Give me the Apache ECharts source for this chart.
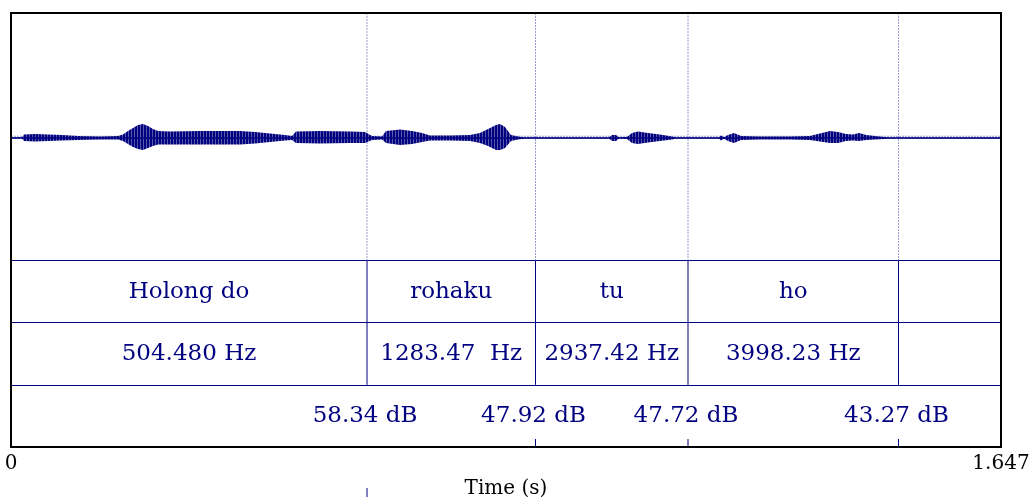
<!DOCTYPE html>
<html>
<head>
<meta charset="utf-8">
<script src="https://cdn.jsdelivr.net/npm/echarts@6/dist/echarts.min.js"></script>
<style>
  html, body { margin: 0; padding: 0; background: #fff; }
  #main { width: 1034px; height: 497px; }
</style>
</head>
<body>
<div id="main"></div>
<script>
// total duration (s)
var tMax = 1.647;

// waveform envelope (time s, upper / lower amplitude)
var waveTime = [0, 0.0183, 0.0216, 0.0399, 0.0616, 0.0848, 0.1115, 0.1481, 0.1780, 0.1863,
  0.1946, 0.2030, 0.2113, 0.2196, 0.2279, 0.2362, 0.2446, 0.2645, 0.3144, 0.3810,
  0.4059, 0.4309, 0.4558, 0.4675, 0.4741, 0.5141, 0.5640, 0.5889, 0.6006, 0.6172,
  0.6239, 0.6472, 0.6671, 0.6838, 0.6971, 0.7303, 0.7636, 0.7802, 0.7936, 0.8069,
  0.8135, 0.8218, 0.8318, 0.8435, 0.8551, 0.9949, 0.9999, 1.0065, 1.0115, 1.0248,
  1.0331, 1.0431, 1.0597, 1.0797, 1.0997, 1.1063, 1.1778, 1.1812, 1.1862, 1.1928,
  1.2028, 1.2145, 1.2461, 1.2960, 1.3292, 1.3459, 1.3625, 1.3758, 1.3891, 1.4008,
  1.4108, 1.4225, 1.4374, 1.4524, 1.4591, 1.647];
var waveUpper = [0.004, 0.004, 0.028, 0.032, 0.028, 0.024, 0.016, 0.012, 0.016, 0.028,
  0.056, 0.080, 0.104, 0.112, 0.096, 0.072, 0.056, 0.052, 0.056, 0.056,
  0.048, 0.036, 0.024, 0.016, 0.052, 0.056, 0.052, 0.048, 0.016, 0.012,
  0.056, 0.068, 0.056, 0.040, 0.020, 0.020, 0.024, 0.040, 0.072, 0.104,
  0.112, 0.088, 0.024, 0.012, 0.004, 0.004, 0.024, 0.024, 0.004, 0.008,
  0.040, 0.052, 0.040, 0.028, 0.012, 0.004, 0.004, 0.020, 0.0064, 0.024,
  0.040, 0.016, 0.012, 0.012, 0.016, 0.036, 0.056, 0.048, 0.032, 0.028,
  0.040, 0.024, 0.016, 0.008, 0.004, 0.004];
var waveLower = [0.004, 0.004, 0.024, 0.028, 0.024, 0.020, 0.016, 0.012, 0.012, 0.024,
  0.048, 0.072, 0.088, 0.096, 0.080, 0.064, 0.052, 0.052, 0.052, 0.052,
  0.044, 0.032, 0.020, 0.016, 0.040, 0.044, 0.040, 0.040, 0.016, 0.012,
  0.040, 0.056, 0.048, 0.032, 0.020, 0.020, 0.024, 0.040, 0.064, 0.096,
  0.096, 0.080, 0.024, 0.012, 0.004, 0.004, 0.024, 0.024, 0.004, 0.008,
  0.040, 0.048, 0.036, 0.024, 0.012, 0.004, 0.004, 0.020, 0.0064, 0.024,
  0.040, 0.016, 0.012, 0.012, 0.016, 0.028, 0.040, 0.040, 0.024, 0.020,
  0.024, 0.016, 0.012, 0.008, 0.004, 0.004];

// interval tier boundaries (s)
var boundaries = [0.5923, 0.8726, 1.1263, 1.4765];
var wordLabels = ['Holong do', 'rohaku', 'tu', 'ho', ''];
var freqLabels = ['504.480 Hz', '1283.47  Hz', '2937.42 Hz', '3998.23 Hz', ''];

// point tier
var pointTimes = [0.5923, 0.8726, 1.1263, 1.4765];
var pointLabels = ['58.34 dB', '47.92 dB', '47.72 dB', '43.27 dB'];

var axisLabels = [0, 1.647];

var navy = '#000080';
var font = 'DejaVu Serif';
var tierFont = '23px "' + font + '"';

var starts = [0].concat(boundaries);
var ends = boundaries.concat([tMax]);
var intervalData = [];
for (var i = 0; i < starts.length; i++) {
  intervalData.push([starts[i], ends[i], wordLabels[i], 0]);
  intervalData.push([starts[i], ends[i], freqLabels[i], 1]);
}
var pointData = pointTimes.map(function (t, i) { return [t, pointLabels[i], i]; });

// vertical stripe texture so the envelope reads like a sampled waveform
var stripe = document.createElement('canvas');
stripe.width = 3; stripe.height = 1;
var sctx = stripe.getContext('2d');
sctx.fillStyle = navy; sctx.fillRect(0, 0, 2, 1);
sctx.fillStyle = '#5858a8'; sctx.fillRect(2, 0, 1, 1);

var myChart = echarts.init(document.getElementById('main'));
var option = {
  animation: false,
  grid: [
    { left: 11, top: 13, width: 990, height: 247.5, outerBoundsMode: 'none', containLabel: false },
    { left: 11, top: 260.5, width: 990, height: 186.5, outerBoundsMode: 'none', containLabel: false }
  ],
  xAxis: [
    { gridIndex: 0, type: 'value', min: 0, max: tMax, show: false },
    {
      gridIndex: 1, type: 'value', min: 0, max: tMax,
      axisLine: { show: false },
      splitLine: { show: false },
      axisTick: { show: false },
      axisLabel: {
        customValues: axisLabels,
        margin: 7,
        color: '#000', fontFamily: font, fontSize: 20,
        formatter: function (v) { return v === 0 ? '0' : v.toFixed(3); }
      },
      name: 'Time (s)', nameLocation: 'middle', nameGap: 32,
      nameTextStyle: { color: '#000', fontFamily: font, fontSize: 20 }
    }
  ],
  yAxis: [
    { gridIndex: 0, type: 'value', min: -0.98, max: 1, show: false },
    {
      gridIndex: 1, type: 'value', min: 0, max: 3, interval: 1, inverse: true,
      axisLine: { show: false }, axisTick: { show: false }, axisLabel: { show: false },
      splitLine: { show: true, lineStyle: { color: navy, width: 1 } }
    }
  ],
  series: [
    {
      // boundary lines through the waveform
      type: 'custom', xAxisIndex: 0, yAxisIndex: 0,
      data: boundaries,
      renderItem: function (params, api) {
        var a = api.coord([api.value(0), 1]);
        var b = api.coord([api.value(0), -0.98]);
        return {
          type: 'line',
          shape: { x1: a[0], y1: a[1], x2: b[0], y2: b[1] },
          style: { stroke: '#9a9acc', lineWidth: 1, lineDash: [2, 1] }
        };
      },
      z: 1
    },
    {
      // waveform envelope
      type: 'custom', xAxisIndex: 0, yAxisIndex: 0,
      data: [0],
      renderItem: function (params, api) {
        var pts = [];
        for (var i = 0; i < waveTime.length; i++) pts.push(api.coord([waveTime[i], waveUpper[i]]));
        for (var j = waveTime.length - 1; j >= 0; j--) pts.push(api.coord([waveTime[j], -waveLower[j]]));
        var z0 = api.coord([0, 0.014]);
        var z1 = api.coord([tMax, 0.014]);
        var b0 = api.coord([0, 0]);
        var b1 = api.coord([tMax, 0]);
        return {
          type: 'group',
          children: [
            {
              type: 'line',
              shape: { x1: z0[0], y1: z0[1], x2: z1[0], y2: z1[1] },
              style: { stroke: '#9a9acc', lineWidth: 1, lineDash: [2, 1] }
            },
            {
              type: 'polygon',
              shape: { points: pts },
              style: { fill: { image: stripe, repeat: 'repeat' }, stroke: null }
            },
            {
              type: 'line',
              shape: { x1: b0[0], y1: b0[1], x2: b1[0], y2: b1[1] },
              style: { stroke: navy, lineWidth: 1.5 }
            }
          ]
        };
      },
      z: 2
    },
    {
      // interval tiers: boundaries and texts
      type: 'custom', xAxisIndex: 1, yAxisIndex: 1,
      data: intervalData,
      renderItem: function (params, api) {
        var s = api.value(0), e = api.value(1), tier = api.value(3);
        var label = intervalData[params.dataIndex][2];
        var c = api.coord([(s + e) / 2, tier + 0.5]);
        var children = [{
          type: 'text',
          style: {
            text: label, x: c[0], y: c[1], align: 'center', verticalAlign: 'middle',
            fill: navy, font: tierFont
          }
        }];
        if (e < tMax) {
          var a = api.coord([e, tier]);
          var b = api.coord([e, tier + 1]);
          children.push({
            type: 'line',
            shape: { x1: a[0], y1: a[1], x2: b[0], y2: b[1] },
            style: { stroke: navy, lineWidth: 1 }
          });
        }
        return { type: 'group', children: children };
      },
      z: 3
    },
    {
      // point tier
      type: 'custom', xAxisIndex: 1, yAxisIndex: 1,
      data: pointData,
      renderItem: function (params, api) {
        var t = api.value(0);
        var c = api.coord([t, 2.5]);
        var bot = api.coord([t, 3]);
        var y1 = bot[1] - 8, y2 = bot[1];
        if (params.dataIndex === 0) { y1 = bot[1] + 41; y2 = bot[1] + 50; }
        return {
          type: 'group',
          children: [
            {
              type: 'text',
              style: {
                text: pointData[params.dataIndex][1], x: c[0] - 2, y: c[1],
                align: 'center', verticalAlign: 'middle',
                fill: navy, font: tierFont
              }
            },
            {
              type: 'line',
              shape: { x1: bot[0], y1: y1, x2: bot[0], y2: y2 },
              style: { stroke: navy, lineWidth: 1 }
            }
          ]
        };
      },
      z: 3
    }
  ],
  graphic: [{
    type: 'rect',
    shape: { x: 11, y: 13, width: 990, height: 434 },
    style: { fill: null, stroke: '#000', lineWidth: 2 },
    z: 100
  }]
};
myChart.setOption(option);
</script>
</body>
</html>
